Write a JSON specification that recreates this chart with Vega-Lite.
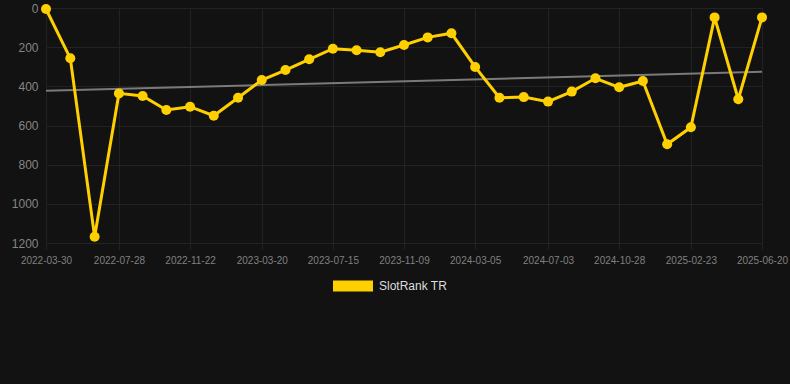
{
  "$schema": "https://vega.github.io/schema/vega-lite/v6.json",
  "autosize": "none",
  "width": 716,
  "height": 235,
  "padding": {"left": 46, "top": 8, "right": 28, "bottom": 141},
  "background": "#121212",
  "config": {
    "view": {"stroke": null},
    "font": "Liberation Sans"
  },
  "datasets": {
    "rank": [
      {"date": "2022-03-30", "rank": 5, "series": "SlotRank TR"},
      {"date": "2022-05-09", "rank": 257, "series": "SlotRank TR"},
      {"date": "2022-06-18", "rank": 1168, "series": "SlotRank TR"},
      {"date": "2022-07-28", "rank": 436, "series": "SlotRank TR"},
      {"date": "2022-09-05", "rank": 449, "series": "SlotRank TR"},
      {"date": "2022-10-14", "rank": 521, "series": "SlotRank TR"},
      {"date": "2022-11-22", "rank": 504, "series": "SlotRank TR"},
      {"date": "2022-12-31", "rank": 550, "series": "SlotRank TR"},
      {"date": "2023-02-09", "rank": 458, "series": "SlotRank TR"},
      {"date": "2023-03-20", "rank": 368, "series": "SlotRank TR"},
      {"date": "2023-04-28", "rank": 317, "series": "SlotRank TR"},
      {"date": "2023-06-06", "rank": 262, "series": "SlotRank TR"},
      {"date": "2023-07-15", "rank": 208, "series": "SlotRank TR"},
      {"date": "2023-08-23", "rank": 216, "series": "SlotRank TR"},
      {"date": "2023-10-01", "rank": 226, "series": "SlotRank TR"},
      {"date": "2023-11-09", "rank": 189, "series": "SlotRank TR"},
      {"date": "2023-12-18", "rank": 150, "series": "SlotRank TR"},
      {"date": "2024-01-26", "rank": 129, "series": "SlotRank TR"},
      {"date": "2024-03-05", "rank": 301, "series": "SlotRank TR"},
      {"date": "2024-04-14", "rank": 458, "series": "SlotRank TR"},
      {"date": "2024-05-24", "rank": 455, "series": "SlotRank TR"},
      {"date": "2024-07-03", "rank": 478, "series": "SlotRank TR"},
      {"date": "2024-08-11", "rank": 427, "series": "SlotRank TR"},
      {"date": "2024-09-19", "rank": 359, "series": "SlotRank TR"},
      {"date": "2024-10-28", "rank": 405, "series": "SlotRank TR"},
      {"date": "2024-12-06", "rank": 373, "series": "SlotRank TR"},
      {"date": "2025-01-15", "rank": 696, "series": "SlotRank TR"},
      {"date": "2025-02-23", "rank": 609, "series": "SlotRank TR"},
      {"date": "2025-04-03", "rank": 48, "series": "SlotRank TR"},
      {"date": "2025-05-12", "rank": 466, "series": "SlotRank TR"},
      {"date": "2025-06-20", "rank": 48, "series": "SlotRank TR"}
    ],
    "trend": [
      {"date": "2022-03-30", "rank": 423},
      {"date": "2025-06-20", "rank": 325}
    ]
  },
  "encoding": {
    "x": {
      "field": "date", "type": "temporal",
      "scale": {"domain": ["2022-03-30", "2025-06-20"]},
      "axis": {
        "values": ["2022-03-30", "2022-07-28", "2022-11-22", "2023-03-20", "2023-07-15", "2023-11-09", "2024-03-05", "2024-07-03", "2024-10-28", "2025-02-23", "2025-06-20"],
        "format": "%Y-%m-%d",
        "title": null,
        "labelColor": "#808080",
        "labelFontSize": 10,
        "labelPadding": 6,
        "labelOverlap": false,
        "labelFlush": false,
        "grid": true,
        "gridColor": "#222222",
        "gridWidth": 1,
        "domain": false,
        "ticks": true,
        "tickColor": "#222222",
        "tickSize": 6
      }
    },
    "y": {
      "field": "rank", "type": "quantitative",
      "scale": {"domain": [0, 1200], "reverse": true, "nice": false},
      "axis": {
        "values": [0, 200, 400, 600, 800, 1000, 1200],
        "format": "d",
        "title": null,
        "labelColor": "#858585",
        "labelFontSize": 12,
        "labelPadding": 8,
        "labelOverlap": false,
        "labelFlush": false,
        "grid": true,
        "gridColor": "#222222",
        "domain": false,
        "ticks": false
      }
    }
  },
  "layer": [
    {
      "data": {"name": "trend"},
      "mark": {"type": "line", "color": "#7a7a7a", "strokeWidth": 2}
    },
    {
      "data": {"name": "rank"},
      "mark": {"type": "line", "strokeWidth": 3, "point": {"filled": true, "size": 100, "opacity": 1}},
      "encoding": {
        "color": {
          "field": "series", "type": "nominal",
          "scale": {"domain": ["SlotRank TR"], "range": ["#FFD000"]},
          "legend": {
            "title": null,
            "orient": "none",
            "legendX": 287,
            "legendY": 258,
            "symbolType": "M-1,-0.275L1,-0.275L1,0.275L-1,0.275Z",
            "symbolSize": 1600,
            "symbolStrokeWidth": 0,
            "symbolFillColor": "#FFD000",
            "symbolOpacity": 1,
            "labelColor": "#dddddd",
            "labelFontSize": 12,
            "labelOffset": 6
          }
        }
      }
    }
  ]
}
